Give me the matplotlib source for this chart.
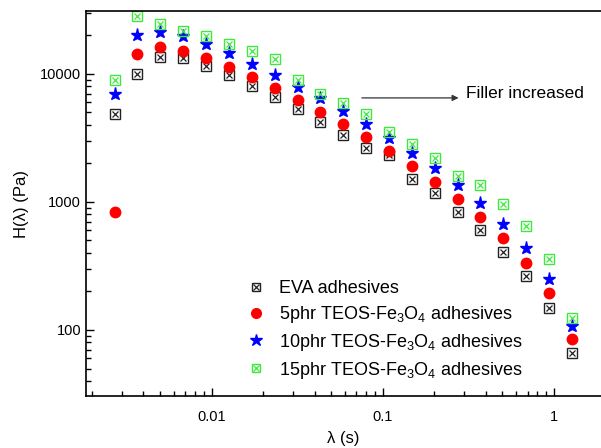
import matplotlib
matplotlib.use('Agg')
import matplotlib.pyplot as plt
from matplotlib.ticker import FuncFormatter, NullFormatter, LogLocator
from matplotlib.legend_handler import HandlerTuple
from matplotlib.lines import Line2D

plt.rcParams['font.family'] = ['Liberation Sans', 'DejaVu Sans']
plt.rcParams['mathtext.fontset'] = 'custom'
plt.rcParams['mathtext.rm'] = 'Liberation Sans'
plt.rcParams['mathtext.it'] = 'Liberation Sans'

# relaxation time (s)
lam = [0.00272, 0.00369, 0.00502, 0.00683, 0.00929, 0.0126, 0.0172,
       0.0234, 0.0318, 0.0432, 0.0588, 0.0800, 0.109, 0.148, 0.201,
       0.274, 0.372, 0.506, 0.689, 0.936, 1.27]

# H(lambda) in Pa
h_eva = [4870, 10000, 13600, 13300, 11550, 9820, 8050, 6650, 5300, 4240,
         3340, 2650, 2330, 1510, 1170, 840, 601, 409, 264, 149, 66]
h_5phr = [836, 14300, 16300, 15200, 13400, 11400, 9530, 7780, 6260, 5080,
          4050, 3200, 2500, 1910, 1430, 1050, 759, 520, 336, 195, 85]
h_10phr = [6930, 20200, 21400, 19600, 17100, 14500, 12000, 9820, 7950, 6460,
           5140, 4050, 3180, 2430, 1830, 1360, 990, 673, 435, 252, 108]
h_15phr = [8930, 28500, 24400, 21700, 19600, 17200, 15100, 13100, 8980, 6940,
           5910, 4840, 3500, 2830, 2220, 1600, 1360, 965, 645, 357, 123]

labels = ['EVA adhesives',
          '5phr TEOS-Fe$_3$O$_4$ adhesives',
          '10phr TEOS-Fe$_3$O$_4$ adhesives',
          '15phr TEOS-Fe$_3$O$_4$ adhesives']

green = '#3ee83e'
dark = '#222222'

fig = plt.figure(figsize=(6.01, 4.48), dpi=100)
ax = fig.add_axes([86 / 601, 1 - 396 / 448, 515 / 601, 385 / 448])

ax.plot(lam, h_eva, 's', ms=6.5, mfc='none', mec=dark, mew=1.0)
ax.plot(lam, h_eva, 'x', ms=5, color=dark, mew=0.9)
ax.plot(lam, h_5phr, 'o', ms=7.5, color='red', mec='red')
ax.plot(lam, h_10phr, '*', ms=9.5, color='blue', mec='blue')
ax.plot(lam, h_15phr, 's', ms=6.5, mfc='none', mec=green, mew=1.0)
ax.plot(lam, h_15phr, 'x', ms=5, color=green, mew=0.9)

ax.set_xscale('log')
ax.set_yscale('log')
ax.set_xlim(0.00185, 1.88)
ax.set_ylim(30.5, 31000)

fmt = FuncFormatter(lambda v, p: f'{v:g}')
ax.xaxis.set_major_formatter(fmt)
ax.yaxis.set_major_formatter(fmt)
ax.xaxis.set_minor_formatter(NullFormatter())
ax.yaxis.set_minor_formatter(NullFormatter())
ax.xaxis.set_minor_locator(LogLocator(subs=range(2, 10)))
ax.yaxis.set_minor_locator(LogLocator(subs=range(2, 10)))

ax.tick_params(which='both', direction='in', labelsize=10.5, top=False, right=False)
ax.tick_params(which='major', length=6, width=1)
ax.tick_params(which='minor', length=3.5, width=1)
ax.tick_params(axis='x', pad=10)
ax.spines['right'].set_visible(False)
for s in ['left', 'bottom', 'top']:
    ax.spines[s].set_linewidth(1.2)

ax.set_xlabel('λ (s)', fontsize=12, labelpad=5)
ax.set_ylabel('H(λ) (Pa)', fontsize=12, labelpad=8)

ax.annotate('', xy=(0.277, 6494), xytext=(0.0755, 6494),
            arrowprops=dict(arrowstyle='-|>', color='#333333', lw=0.9,
                            mutation_scale=9, shrinkA=0, shrinkB=0))
ax.text(0.305, 6980, 'Filler increased', fontsize=12.5, va='center', ha='left')

h1 = (Line2D([], [], ls='none', marker='s', ms=6, mfc='none', mec=dark, mew=1.0),
      Line2D([], [], ls='none', marker='x', ms=4.5, color=dark, mew=0.9))
h2 = Line2D([], [], ls='none', marker='o', ms=7, color='red')
h3 = Line2D([], [], ls='none', marker='*', ms=9, color='blue')
h4 = (Line2D([], [], ls='none', marker='s', ms=6, mfc='none', mec=green, mew=1.0),
      Line2D([], [], ls='none', marker='x', ms=4.5, color=green, mew=0.9))
ax.legend([h1, h2, h3, h4], labels, handler_map={tuple: HandlerTuple(ndivide=1)},
          loc='upper left', bbox_to_anchor=(245 / 601, 1 - 280 / 448),
          bbox_transform=fig.transFigure, frameon=False, fontsize=13,
          handlelength=1.2, handletextpad=0.7, labelspacing=0.38,
          borderpad=0, borderaxespad=0)

fig.savefig('out.png', dpi=100)
